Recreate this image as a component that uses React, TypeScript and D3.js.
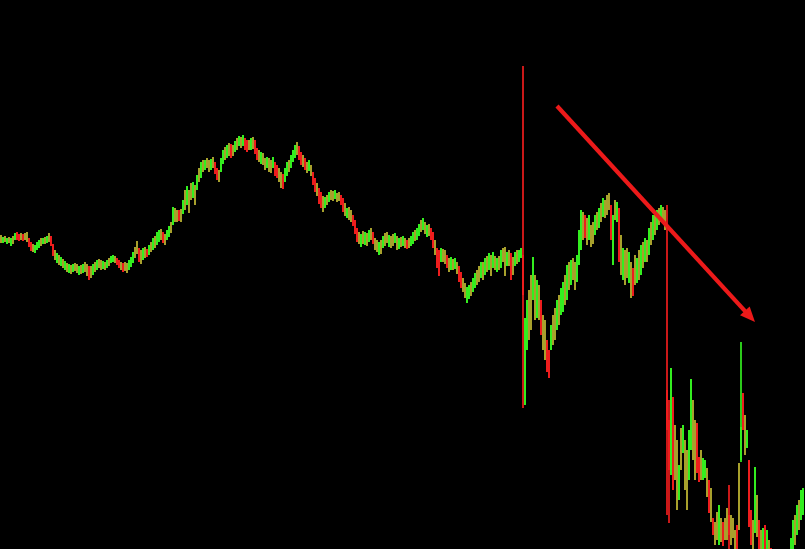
import React from 'react';
import * as d3 from 'd3';

const W = 805;
const H = 549;

// OHLC values per bar (price units)
const high = [
  314,312,313,311,312,311,313,316,317,315,
  316,315,316,317,311,307,305,304,307,309,
  311,311,312,313,316,313,305,299,296,294,
  292,290,288,286,285,284,285,286,285,283,
  284,285,287,285,283,283,285,287,289,290,
  289,288,287,289,291,293,294,293,291,289,
  287,286,287,286,289,292,297,302,308,301,
  299,301,302,300,304,307,311,313,317,319,
  320,317,315,319,323,327,342,341,339,339,
  340,349,359,363,359,366,367,364,374,381,
  387,389,389,391,389,390,392,387,381,379,
  391,399,402,404,406,405,404,408,411,413,
  412,414,411,409,409,411,412,409,401,399,
  397,396,391,392,391,389,392,387,384,381,
  377,375,381,387,389,394,399,404,407,403,
  397,394,391,387,389,384,377,371,366,361,
  357,353,352,354,357,359,358,359,356,357,
  354,351,346,341,342,339,334,329,321,317,
  315,318,317,316,319,321,317,311,309,307,
  309,313,316,317,314,313,315,316,313,311,
  312,313,311,309,311,313,317,319,321,325,
  329,331,327,324,325,321,317,309,301,299,
  301,300,299,294,291,292,290,291,287,283,
  277,271,266,262,264,267,271,276,279,283,
  287,287,291,293,296,294,297,293,291,293,
  299,301,302,297,299,296,292,297,299,299,
  301,483,231,249,259,274,292,274,269,264,
  249,234,229,209,199,224,234,241,249,254,
  261,267,274,284,287,289,291,287,294,319,
  339,337,334,331,334,324,327,334,337,341,
  346,351,349,354,356,344,334,349,347,341,
  314,301,299,301,297,287,281,294,291,299,
  304,307,311,309,321,327,334,337,339,341,
  344,342,339,344,149,181,152,124,109,84,
  121,124,109,99,119,170,149,129,126,92,
  99,91,89,81,69,61,31,27,37,44,
  31,27,31,41,64,34,31,19,24,86,
  207,156,134,119,89,39,29,82,54,29,
  19,21,24,19,9,1,-6,-11,-16,-21,
  -19,-16,-11,-1,-1,11,29,34,44,49,
  59,61,
];

const low = [
  306,306,307,305,306,303,305,309,309,308,
  309,308,309,307,302,298,297,296,299,301,
  303,305,305,306,307,303,293,289,286,284,
  283,281,279,277,276,275,277,278,276,274,
  275,276,277,273,269,271,274,277,279,281,
  279,280,279,281,283,286,287,286,284,281,
  279,277,278,276,279,282,286,291,295,287,
  285,289,291,292,294,297,299,301,304,307,
  309,306,304,309,312,316,324,327,327,328,
  327,335,339,344,336,349,351,344,359,367,
  371,377,379,381,377,379,381,375,369,367,
  377,385,389,391,393,391,393,397,399,403,
  401,403,399,397,399,399,400,395,389,387,
  385,384,379,381,377,376,381,373,371,367,
  361,360,367,373,377,381,387,391,394,389,
  384,382,379,376,378,373,364,357,353,345,
  341,337,341,344,347,349,348,350,347,348,
  344,337,333,331,329,327,323,315,307,305,
  302,305,304,303,307,309,305,299,297,294,
  295,301,303,306,302,301,303,306,299,300,
  302,303,301,300,301,303,305,308,309,313,
  317,319,315,312,313,309,301,294,281,273,
  287,287,285,281,277,279,279,280,275,267,
  261,257,251,246,250,253,257,261,264,267,
  271,269,274,277,279,273,281,279,277,279,
  281,287,273,283,283,269,274,283,285,287,
  291,141,144,199,209,219,249,229,231,229,
  214,199,189,177,171,199,204,209,219,224,
  234,237,244,249,259,264,269,259,267,284,
  299,309,311,304,309,302,305,314,319,321,
  327,332,331,334,339,309,284,329,327,287,
  274,269,264,271,266,251,253,264,266,269,
  274,281,287,287,294,304,309,314,319,324,
  327,329,319,34,26,74,59,69,39,49,
  79,96,59,39,69,99,89,69,76,67,
  69,69,71,52,36,27,14,4,9,4,
  7,3,9,9,0,4,11,0,-3,19,
  87,119,94,101,22,4,-3,16,12,-6,
  -11,-6,-9,-11,-16,-21,-31,-41,-46,-51,
  -49,-41,-36,-29,-26,-11,0,4,14,19,
  29,34,
];

const open = [
  310,306,310,305,309,303,309,309,317,315,
  312,315,312,312,311,307,301,296,299,301,
  307,305,308,306,311,313,305,294,286,289,
  283,285,279,281,276,279,277,282,280,274,
  279,276,282,279,283,277,274,282,279,285,
  284,280,283,281,287,286,287,290,291,289,
  283,286,282,281,279,282,286,296,301,301,
  292,289,296,300,294,302,299,307,304,307,
  314,317,309,309,312,321,324,334,333,339,
  333,335,349,344,347,357,351,354,359,374,
  371,383,379,386,383,379,386,387,381,373,
  377,385,395,391,399,405,398,397,405,403,
  406,403,411,409,404,399,406,409,401,393,
  385,390,385,381,384,382,381,387,384,374,
  369,375,367,373,383,381,387,391,400,403,
  397,388,391,381,378,378,377,371,360,361,
  357,345,341,349,347,354,353,350,351,352,
  354,351,340,331,336,333,334,329,321,311,
  302,312,304,310,307,315,317,305,303,294,
  302,301,310,312,302,307,309,306,306,300,
  307,303,306,309,306,303,305,313,309,313,
  323,319,321,312,319,321,317,301,301,299,
  287,293,292,294,284,279,284,280,281,283,
  277,264,258,246,250,260,257,261,271,275,
  271,278,274,285,279,283,281,286,277,286,
  281,294,287,283,291,296,283,283,292,287,
  291,294,144,199,234,246,249,251,231,246,
  249,216,209,209,199,199,219,225,219,239,
  234,237,259,249,273,264,280,273,267,284,
  299,323,334,318,309,313,316,314,328,321,
  337,332,340,344,348,344,284,339,327,341,
  294,269,282,286,266,269,281,279,266,284,
  274,294,287,298,294,316,309,326,319,333,
  327,336,329,159,129,74,152,97,74,49,
  100,96,84,69,69,99,119,99,126,92,
  84,69,71,66,69,44,31,15,23,4,
  19,27,20,25,34,19,21,10,24,52,
  89,156,114,101,89,39,13,16,33,29,
  4,-6,24,-11,-4,1,-18,-11,-31,-51,
  -34,-41,-24,-29,-26,-11,0,19,14,34,
  29,34,
];

const close = [
  310,312,310,311,309,311,309,316,309,308,
  312,308,312,312,302,298,301,304,307,309,
  307,311,308,313,311,303,293,294,296,289,
  292,285,288,281,285,279,285,282,280,283,
  279,285,282,279,269,277,285,282,289,285,
  284,288,283,289,287,293,294,290,284,281,
  283,277,282,281,289,292,297,296,301,287,
  292,301,296,292,304,302,311,307,317,319,
  314,306,309,319,323,321,342,334,333,328,
  333,349,349,363,347,357,367,354,374,374,
  387,383,389,386,383,390,386,375,369,373,
  391,399,395,404,399,391,398,408,405,413,
  406,414,399,397,404,411,406,395,389,393,
  397,390,385,392,384,382,392,373,371,374,
  369,360,381,387,383,394,399,404,400,389,
  384,388,379,381,389,378,364,357,360,345,
  341,345,352,349,357,354,353,359,351,352,
  344,337,340,341,336,333,323,315,307,311,
  315,312,317,310,319,315,305,305,303,307,
  302,313,310,312,314,307,309,316,306,311,
  307,313,306,300,306,313,317,313,321,325,
  323,331,321,324,319,309,301,301,281,273,
  301,293,292,281,284,292,284,291,281,267,
  261,264,258,262,264,260,271,276,271,275,
  287,278,291,285,296,283,297,286,291,286,
  299,294,287,297,291,269,283,297,292,299,
  301,254,231,249,234,246,292,251,269,246,
  214,216,209,177,171,224,219,225,249,239,
  261,267,259,284,273,289,280,273,294,319,
  339,323,311,318,334,313,316,334,328,341,
  337,351,340,344,348,309,334,339,347,287,
  294,301,282,286,297,269,253,279,291,284,
  304,294,311,298,321,316,334,326,339,333,
  344,336,329,119,79,181,59,97,74,84,
  100,124,84,69,119,170,119,99,76,67,
  84,91,89,66,36,44,14,15,23,44,
  19,3,20,25,14,19,21,10,-3,52,
  122,119,114,119,22,4,13,82,33,-6,
  4,21,-9,19,-4,-21,-18,-41,-31,-21,
  -34,-16,-24,-1,-1,11,29,19,44,34,
  59,61,
];

// Hand-drawn trend arrow, anchored in data space (bar index, price)
const trendArrow = [
  { bar: 278, price: 443 },
  { bar: 377, price: 227 },
];

const UP = '#33ee1f';
const DOWN = '#ee1d1d';
const FLAT = '#c6bd34';
const ARROW = '#ec1a1a';

export default function App() {
  const n = high.length;
  const x = d3.scaleLinear().domain([0, n - 1]).range([1, W - 2]);
  const y = d3.scaleLinear().domain([0, H]).range([H, 0]);

  const bars = d3.range(n).map((i) => {
    const o = open[i];
    const c = close[i];
    const color = c > o ? UP : c < o ? DOWN : FLAT;
    const cx = x(i);
    const top = y(Math.max(o, c));
    const bot = y(Math.min(o, c));
    return (
      <g key={i}>
        <line x1={cx} x2={cx} y1={y(high[i])} y2={y(low[i])} stroke={color} strokeWidth={1.7} />
        {c !== o && <rect x={cx - 1} y={top} width={2} height={bot - top} fill={color} />}
      </g>
    );
  });

  const ax0 = x(trendArrow[0].bar);
  const ay0 = y(trendArrow[0].price);
  const ax1 = x(trendArrow[1].bar);
  const ay1 = y(trendArrow[1].price);
  const ang = Math.atan2(ay1 - ay0, ax1 - ax0);
  const headLen = 15;
  const headHalf = 6.5;
  const bx = ax1 - headLen * Math.cos(ang);
  const by = ay1 - headLen * Math.sin(ang);
  const px = -Math.sin(ang);
  const py = Math.cos(ang);
  const head = `${ax1},${ay1} ${bx + px * headHalf},${by + py * headHalf} ${bx - px * headHalf},${by - py * headHalf}`;

  return (
    <svg
      width={W}
      height={H}
      style={{ position: 'fixed', left: 0, top: 0, display: 'block', background: '#000' }}
    >
      <rect x={0} y={0} width={W} height={H} fill="#000" />
      {bars}
      <line x1={ax0} y1={ay0} x2={bx + 2 * Math.cos(ang)} y2={by + 2 * Math.sin(ang)} stroke={ARROW} strokeWidth={4.2} />
      <polygon points={head} fill={ARROW} />
    </svg>
  );
}
